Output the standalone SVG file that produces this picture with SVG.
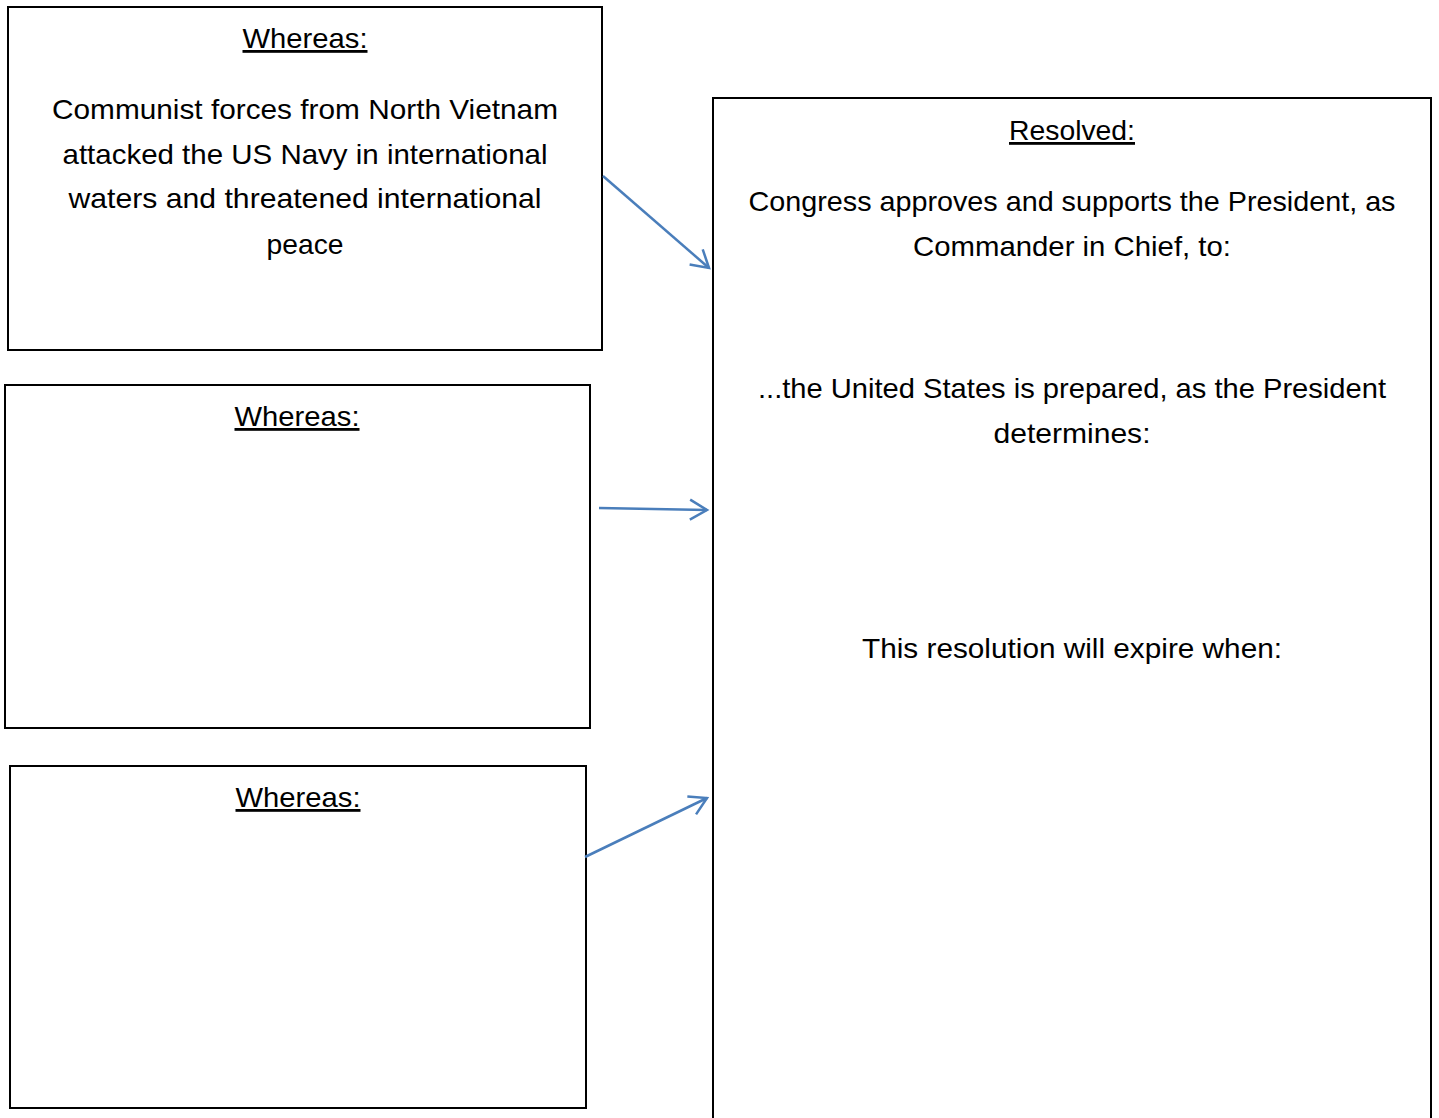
<svg xmlns="http://www.w3.org/2000/svg" width="1439" height="1118" viewBox="0 0 1439 1118">
<defs>
<style>
.box{fill:#fff;stroke:#000;stroke-width:2}
.t{font-family:"Liberation Sans",Arial,sans-serif;font-size:28px;fill:#000;text-anchor:middle}
.u{text-decoration:underline}
.c{fill:none;stroke:#4a7ebb;stroke-width:2.5}
</style>
<marker id="ah" markerWidth="22" markerHeight="24" refX="19" refY="12" orient="auto" markerUnits="userSpaceOnUse">
<path d="M2,2 L19,12 L2,22" fill="none" stroke="#4a7ebb" stroke-width="2.5"/>
</marker>
</defs>
<rect width="1439" height="1118" fill="#fff"/>
<g id="whereas1">
<rect class="box" x="8" y="7" width="594" height="343"/>
<text class="t u" x="305" y="48" textLength="125" lengthAdjust="spacingAndGlyphs">Whereas:</text>
<text class="t" x="305" y="119" textLength="506" lengthAdjust="spacingAndGlyphs">Communist forces from North Vietnam</text>
<text class="t" x="305" y="164" textLength="485" lengthAdjust="spacingAndGlyphs">attacked the US Navy in international</text>
<text class="t" x="305" y="208" textLength="473" lengthAdjust="spacingAndGlyphs">waters and threatened international</text>
<text class="t" x="305" y="254" textLength="77" lengthAdjust="spacingAndGlyphs">peace</text>
</g>
<g id="whereas2">
<rect class="box" x="5" y="385" width="585" height="343"/>
<text class="t u" x="297" y="426" textLength="125" lengthAdjust="spacingAndGlyphs">Whereas:</text>
</g>
<g id="whereas3">
<rect class="box" x="10" y="766" width="576" height="342"/>
<text class="t u" x="298" y="807" textLength="125" lengthAdjust="spacingAndGlyphs">Whereas:</text>
</g>
<g id="resolved">
<rect class="box" x="713" y="98" width="718" height="1030"/>
<text class="t u" x="1072" y="140" textLength="126" lengthAdjust="spacingAndGlyphs">Resolved:</text>
<text class="t" x="1072" y="211" textLength="647" lengthAdjust="spacingAndGlyphs">Congress approves and supports the President, as</text>
<text class="t" x="1072" y="256" textLength="318" lengthAdjust="spacingAndGlyphs">Commander in Chief, to:</text>
<text class="t" x="1072" y="398" textLength="628" lengthAdjust="spacingAndGlyphs">...the United States is prepared, as the President</text>
<text class="t" x="1072" y="443" textLength="157" lengthAdjust="spacingAndGlyphs">determines:</text>
<text class="t" x="1072" y="658" textLength="420" lengthAdjust="spacingAndGlyphs">This resolution will expire when:</text>
</g>
<g id="connectors">
<line class="c" x1="603" y1="176" x2="709" y2="268" marker-end="url(#ah)"/>
<line class="c" x1="599" y1="508" x2="707" y2="510" marker-end="url(#ah)"/>
<line class="c" x1="585" y1="857" x2="707" y2="798" marker-end="url(#ah)"/>
</g>
</svg>
